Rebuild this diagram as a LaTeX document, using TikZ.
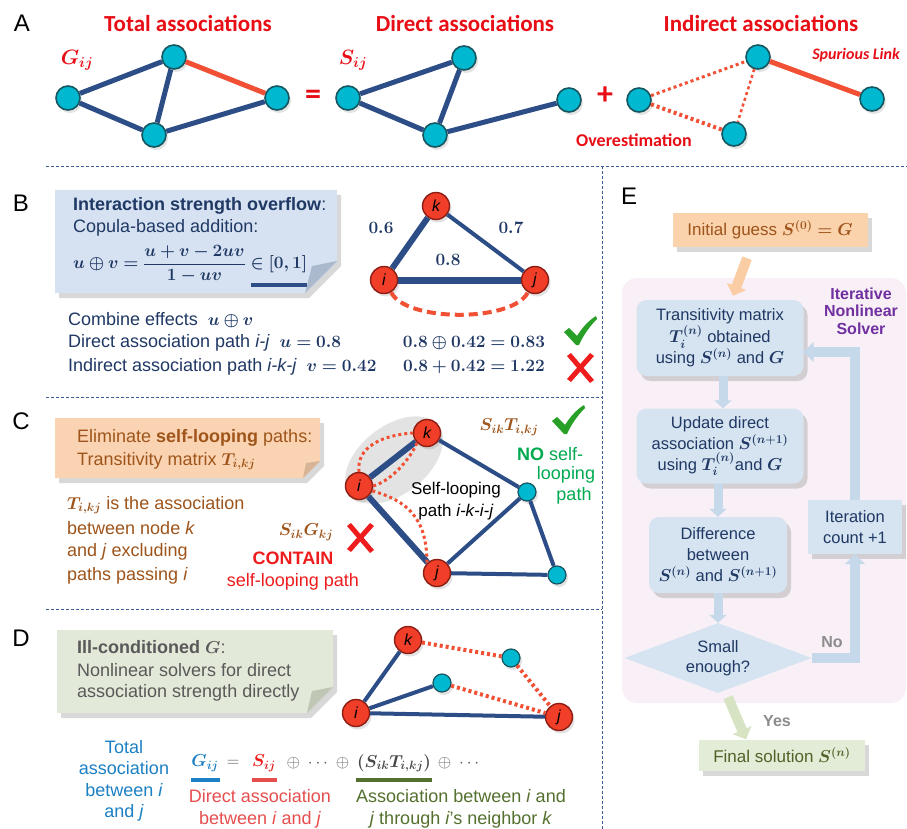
\documentclass[tikz,border=0pt]{standalone}
\usepackage{amsmath}
\usepackage{bm}
\usepackage{fontspec}
\setmainfont{Liberation Sans}
\newfontfamily\carl{Carlito}
\usetikzlibrary{arrows.meta,shadows,shapes.geometric}
\definecolor{navyE}{RGB}{44,77,134}
\definecolor{cyanF}{RGB}{0,184,208}
\definecolor{cyanD}{RGB}{22,86,96}
\definecolor{redL}{RGB}{242,80,52}
\definecolor{titleR}{RGB}{232,14,22}
\definecolor{redF}{RGB}{240,62,40}
\definecolor{redD}{RGB}{140,30,20}
\definecolor{bnoteF}{RGB}{214,226,241}
\definecolor{bfoldF}{RGB}{170,185,205}
\definecolor{bnavy}{RGB}{31,56,100}
\definecolor{cnoteF}{RGB}{250,212,178}
\definecolor{cfoldF}{RGB}{215,180,150}
\definecolor{brownT}{RGB}{158,84,26}
\definecolor{dnoteF}{RGB}{227,233,216}
\definecolor{dfoldF}{RGB}{190,198,180}
\definecolor{grayT}{RGB}{89,89,89}
\definecolor{chkG}{RGB}{40,160,40}
\definecolor{xR}{RGB}{238,28,28}
\definecolor{greenT}{RGB}{0,170,80}
\definecolor{dblue}{RGB}{28,128,196}
\definecolor{dred}{RGB}{230,78,78}
\definecolor{dgreen}{RGB}{84,112,46}
\definecolor{sepC}{RGB}{60,90,150}
\definecolor{pinkF}{RGB}{248,240,246}
\definecolor{eblue}{RGB}{214,228,241}
\definecolor{earrow}{RGB}{198,217,235}
\definecolor{purp}{RGB}{112,48,160}
\definecolor{initF}{RGB}{250,210,172}
\definecolor{finF}{RGB}{226,236,214}
\definecolor{finT}{RGB}{79,98,40}
\definecolor{yesA}{RGB}{214,228,196}
\definecolor{labG}{RGB}{140,140,140}
\definecolor{peachA}{RGB}{250,205,165}
\tikzset{
  nshadow/.style={drop shadow={opacity=0.22, shadow xshift=2pt, shadow yshift=-3pt}},
  bshadow/.style={drop shadow={opacity=0.3, shadow xshift=4pt, shadow yshift=-5pt}},
  cnode/.style={circle, fill=cyanF, draw=cyanD, line width=1.6pt, minimum size=24pt, inner sep=0pt, nshadow},
  cnodes/.style={circle, fill=cyanF, draw=cyanD, line width=1.2pt, minimum size=18pt, inner sep=0pt, nshadow},
  rnode/.style={circle, fill=redF, draw=redD, line width=1.4pt, minimum size=27pt, inner sep=0pt, nshadow,
     font=\fontsize{16}{16}\selectfont\itshape},
  navyline/.style={draw=navyE, line width=#1},
  redline/.style={draw=redL, line width=5pt},
  rdot/.style={draw=redL, line width=#1, dash pattern=on 3pt off 3pt},
  plabel/.style={font=\fontsize{24}{24}\selectfont, inner sep=0pt},
  title/.style={font=\carl\bfseries\fontsize{23}{23}\selectfont, text=titleR, inner sep=0pt},
  txt/.style={font=\fontsize{18}{23}\selectfont, inner sep=0pt},
  sep/.style={draw=sepC, line width=0.9pt, dash pattern=on 3pt off 2pt},
  ebox/.style={rounded corners=10pt, fill=eblue, align=center, text=bnavy, inner sep=2pt,
     font=\fontsize{16.5}{21}\selectfont, bshadow},
  barrow/.style={draw=#1, line width=10pt, -{Triangle[length=10pt,width=20pt]}},
  sarrow/.style={draw=earrow, line width=9pt, -{Triangle[length=8pt,width=17pt]}},
  chk/.pic={\fill[chkG] (-16,1) -- (-11,-3) -- (-3,5) .. controls (2,-3) and (8,-10) .. (16,-15)
      -- (17,-12) .. controls (9,-4) and (3,5) .. (-1,14) -- (-4,14) -- cycle;},
  xmk/.pic={\fill[xR] (-13,-12) -- (-9,-15) -- (14,12) -- (10,15) -- cycle;
      \fill[xR] (10,-15) -- (14,-12) -- (-9,14) -- (-13,11) -- cycle;}
}
\begin{document}
\begin{tikzpicture}[x=1pt,y=-1pt]
\useasboundingbox (0,0) rectangle (907,829);
\fill[white] (0,0) rectangle (907,829);

% ---------- separators
\draw[sep] (46,166) -- (907,166);
\draw[sep] (602,166) -- (602,829);
\draw[sep] (46,397) -- (602,397);
\draw[sep] (46,609) -- (602,609);

% ---------- panel labels
\node[plabel] (lA) at (22,23) {A};
\node[plabel] (lB) at (21,203) {B};
\node[plabel] (lC) at (21,421) {C};
\node[plabel] (lD) at (21,638) {D};
\node[plabel] (lE) at (629,196) {E};

% ---------- Panel A
\node[title] (tA1) at (188,24) {Total associations};
\node[title] (tA2) at (465,24) {Direct associations};
\node[title] (tA3) at (761,24) {Indirect associations};
\node[text=titleR, font=\fontsize{20}{20}\selectfont] (Gij) at (77,60) {$\bm{G_{ij}}$};
\node[text=titleR, font=\fontsize{20}{20}\selectfont] (Sij) at (353,60) {$\bm{S_{ij}}$};
\node[title, font=\carl\bfseries\fontsize{32}{32}\selectfont] (eqA) at (313,97) {=};
\node[title, font=\carl\bfseries\fontsize{32}{32}\selectfont] (plA) at (605,96) {+};
\node[title, font=\carl\bfseries\itshape\fontsize{16}{16}\selectfont] (spur) at (856,55) {Spurious Link};
\node[title, font=\carl\bfseries\fontsize{18}{18}\selectfont] (over) at (634,140) {Overestimation};

\node[cnode] (a1l) at (68,98) {};
\node[cnode] (a1t) at (174,57) {};
\node[cnode] (a1b) at (154,135) {};
\node[cnode] (a1r) at (277,98) {};
\draw[navyline=5pt] (a1l) -- (a1t);
\draw[navyline=5pt] (a1l) -- (a1b);
\draw[navyline=5pt] (a1t) -- (a1b);
\draw[navyline=5pt] (a1b) -- (a1r);
\draw[redline] (a1t) -- (a1r);

\node[cnode] (a2l) at (348,98) {};
\node[cnode] (a2t) at (464,58) {};
\node[cnode] (a2b) at (435,135) {};
\node[cnode] (a2r) at (569,100) {};
\draw[navyline=5pt] (a2l) -- (a2t);
\draw[navyline=5pt] (a2l) -- (a2b);
\draw[navyline=5pt] (a2t) -- (a2b);
\draw[navyline=5pt] (a2b) -- (a2r);

\node[cnode] (a3l) at (639,100) {};
\node[cnode] (a3t) at (758,57) {};
\node[cnode] (a3b) at (734,134) {};
\node[cnode] (a3r) at (872,99) {};
\draw[rdot=3pt] (a3l) -- (a3t);
\draw[rdot=4pt] (a3l) -- (a3b);
\draw[rdot=2.5pt] (a3t) -- (a3b);
\draw[redline] (a3t) -- (a3r);

% ---------- Panel B
\fill[bnoteF, bshadow] (55,190) -- (337,190) -- (337,261) -- (305,293) -- (55,293) -- cycle;
\fill[bfoldF] (337,261) -- (305,293) -- (312,266) -- cycle;
\node[txt, anchor=west, text=bnavy] (b1) at (73,206) {\textbf{Interaction strength overflow}:};
\node[txt, anchor=west, text=bnavy] (b2) at (73,228) {Copula-based addition:};
\node[txt, anchor=west, text=bnavy, font=\fontsize{17}{20}\selectfont] (b3) at (73,264)
  {$\bm{u\oplus v=}\dfrac{\bm{u+v-2uv}}{\bm{1-uv}}\bm{\in[0,1]}$};
\draw[navyE, line width=4pt] ([xshift=-56pt,yshift=-2pt]b3.south east) -- ([yshift=-2pt]b3.south east);

\node[rnode] (bk) at (436,206) {k};
\node[rnode] (bi) at (384,280) {i};
\node[rnode] (bj) at (535,280) {j};
\draw[navyline=6pt] (bi) -- (bk);
\draw[navyline=4pt] (bk) -- (bj);
\draw[navyline=7pt] (bi) -- (bj);
\draw[draw=redL, line width=4pt, dash pattern=on 9pt off 5pt] (bi.-60) .. controls +(15,30) and +(-15,30) .. (bj.-120);
\node[txt, text=bnavy] (e06) at (381,228) {$\bm{0.6}$};
\node[txt, text=bnavy] (e07) at (511,228) {$\bm{0.7}$};
\node[txt, text=bnavy] (e08) at (448,260) {$\bm{0.8}$};

\node[txt, anchor=west, text=bnavy] (b4) at (68,320) {Combine effects\ \ $\bm{u\oplus v}$};
\node[txt, anchor=west, text=bnavy] (b5) at (68,343) {Direct association path \textit{i-j}\ \ $\bm{u=0.8}$};
\node[txt, anchor=west, text=bnavy] (b6) at (68,367) {Indirect association path \textit{i-k-j}\ \ $\bm{v=0.42}$};
\node[txt, text=bnavy] (b7) at (474,343) {$\bm{0.8\oplus 0.42=0.83}$};
\node[txt, text=bnavy] (b8) at (474,367) {$\bm{0.8+0.42=1.22}$};
\pic at (580,331) {chk};
\pic at (580,368) {xmk};

% ---------- Panel C
\fill[cnoteF, bshadow] (55,418) -- (320,418) -- (320,461) -- (303,478) -- (55,478) -- cycle;
\fill[cfoldF] (320,461) -- (303,478) -- (306,463) -- cycle;
\node[txt, anchor=west, text=brownT] (c1) at (77,438) {Eliminate \textbf{self-looping} paths:};
\node[txt, anchor=west, text=brownT] (c2) at (77,461) {Transitivity matrix $\bm{T_{i,kj}}$};
\node[txt, anchor=west, text=brownT] (c3) at (67,505) {$\bm{T_{i,kj}}$ is the association};
\node[txt, anchor=west, text=brownT] (c4) at (67,528) {between node \textit{k}};
\node[txt, anchor=west, text=brownT] (c5) at (67,552) {and \textit{j} excluding};
\node[txt, anchor=west, text=brownT] (c6) at (67,576) {paths passing \textit{i}};
\node[txt, text=brownT] (c7) at (306,532) {$\bm{S_{ik}G_{kj}}$};
\pic at (360,538) {xmk};
\node[txt, text=xR, font=\bfseries\fontsize{18}{23}\selectfont] (c8) at (293,558) {CONTAIN};
\node[txt, text=xR] (c9) at (293,582) {self-looping path};

\fill[gray, opacity=0.22, rotate around={38:(394,460)}] (394,460) ellipse [x radius=56, y radius=34];
\node[rnode] (ck) at (427,433) {k};
\node[rnode] (ci) at (359,486) {i};
\node[rnode] (cj) at (437,573) {j};
\node[cnodes] (cc1) at (527,492) {};
\node[cnodes] (cc2) at (557,575) {};
\draw[navyline=6pt] (ci) -- (ck);
\draw[navyline=4pt] (ck) -- (cc1);
\draw[navyline=6pt] (ci) -- (cj);
\draw[navyline=4pt] (cj) -- (cc1);
\draw[navyline=4pt] (cj) -- (cc2);
\draw[navyline=4pt] (cc1) -- (cc2);
\draw[rdot=3pt] (ci.north) .. controls +(-3,-25) and +(-30,2) .. (ck.west);
\draw[rdot=3pt] (ci.east) .. controls +(20,-6) and +(-6,14) .. (ck.south west);
\draw[rdot=3pt] (ci.-20) .. controls +(35,10) and +(0,-45) .. (cj.north west);
\node[txt, align=center, font=\fontsize{17}{22}\selectfont] (c10) at (456,501) {Self-looping\\path \textit{i-k-i-j}};
\node[txt, text=brownT] (c11) at (509,427) {$\bm{S_{ik}T_{i,kj}}$};
\pic at (568,420) {chk};
\node[txt, text=greenT] (c12) at (550,454) {\textbf{NO} self-};
\node[txt, text=greenT] (c13) at (566,475) {looping};
\node[txt, text=greenT] (c14) at (574,496) {path};

% ---------- Panel D
\fill[dnoteF, bshadow] (57,630) -- (333,630) -- (333,687) -- (307,713) -- (57,713) -- cycle;
\fill[dfoldF] (333,687) -- (307,713) -- (312,691) -- cycle;
\node[txt, anchor=west, text=grayT] (d1) at (77,647) {\textbf{Ill-conditioned} $\bm{G}$:};
\node[txt, anchor=west, text=grayT] (d2) at (77,670) {Nonlinear solvers for direct};
\node[txt, anchor=west, text=grayT] (d3) at (77,693) {association strength directly};

\node[rnode] (dk) at (408,640) {k};
\node[rnode] (di) at (356,713) {i};
\node[rnode] (dj) at (559,717) {j};
\node[cnodes] (dc1) at (511,658) {};
\node[cnodes] (dc2) at (442,683) {};
\draw[navyline=4pt] (di) -- (dk);
\draw[navyline=4pt] (di) -- (dc2);
\draw[navyline=4pt] (di) -- (dj);
\draw[rdot=4pt] (dk) -- (dc1);
\draw[rdot=4pt] (dc1) -- (dj);
\draw[rdot=4pt] (dc2) -- (dj);

\node[txt, align=center, text=dblue, font=\fontsize{18}{21.5}\selectfont] (d4) at (124,781) {Total\\association\\between \textit{i}\\and \textit{j}};
\node[txt, text=dblue] (dG) at (205,763) {$\bm{G_{ij}}$};
\node[txt, text=grayT] (dEq) at (233,763) {$=$};
\node[txt, text=xR] (dS) at (264,763) {$\bm{S_{ij}}$};
\node[txt, text=grayT] (dO1) at (318,763) {$\oplus\ \cdots\ \oplus$};
\node[txt, text=grayT!80!black] (dST) at (394,763) {$\bm{(S_{ik}T_{i,kj})}$};
\node[txt, text=grayT] (dO2) at (460,763) {$\oplus\ \cdots$};
\draw[dblue, line width=4pt] (191,780) -- (220,780);
\draw[dred, line width=4pt] (252,780) -- (277,780);
\draw[dgreen, line width=4pt] (356,780) -- (432,780);
\node[txt, align=center, text=dred, font=\fontsize{18}{22}\selectfont] (d5) at (260,809) {Direct association\\between \textit{i} and \textit{j}};
\node[txt, align=center, text=dgreen, font=\fontsize{18}{22}\selectfont] (d6) at (461,809) {Association between \textit{i} and\\\textit{j} through \textit{i}'s neighbor \textit{k}};

% ---------- Panel E
\fill[pinkF, rounded corners=15pt] (622,278) rectangle (906,703);
\node[fill=initF, text=brownT, font=\fontsize{17}{21}\selectfont, minimum width=195pt, minimum height=34pt, inner sep=0pt, bshadow] (init) at (770,230) {Initial guess $\bm{S^{(0)}=G}$};
\node[font=\bfseries\fontsize{16}{17.5}\selectfont, text=purp, align=center, inner sep=0pt] (iterlab) at (861,311) {Iterative\\Nonlinear\\Solver};
\node[ebox, minimum width=167pt, minimum height=76pt] (box1) at (720,338)
  {Transitivity matrix\\$\bm{T_i^{(n)}}$ obtained\\using $\bm{S^{(n)}}$ and $\bm{G}$};
\node[ebox, minimum width=167pt, minimum height=75pt] (box2) at (720,446)
  {Update direct\\association $\bm{S^{(n+1)}}$\\using $\bm{T_i^{(n)}}$and $\bm{G}$};
\node[ebox, minimum width=138pt, minimum height=76pt] (box3) at (718,555)
  {Difference\\between\\$\bm{S^{(n)}}$ and $\bm{S^{(n+1)}}$};
\node[diamond, fill=eblue, text=bnavy, align=center, minimum width=187pt, minimum height=70pt, inner sep=0pt, aspect=2.6,
  font=\fontsize{16.5}{20}\selectfont] (dia) at (718,658) {Small\\enough?};
\node[fill=eblue, text=bnavy, align=center, minimum width=94pt, minimum height=54pt, inner sep=0pt, bshadow,
  font=\fontsize{16.5}{21}\selectfont] (iter) at (855,527) {Iteration\\count +1};
\node[fill=finF, text=finT, font=\fontsize{17}{21}\selectfont, minimum width=166pt, minimum height=31pt, inner sep=0pt, bshadow] (final) at (782,755) {Final solution $\bm{S^{(n)}}$};

\draw[barrow=peachA] ([xshift=-23pt,yshift=-11pt]init.south) -- ([xshift=13pt,yshift=4pt]box1.north);
\draw[sarrow] ([xshift=3pt]box1.south) -- ([xshift=3pt]box2.north);
\draw[sarrow] ([xshift=-2pt]box2.south) -- (box3.north);
\draw[sarrow] (box3.south) -- (dia.north);
\draw[barrow=earrow, line join=miter] (dia.east) -| (iter.south);
\draw[barrow=earrow, line join=miter] (iter.north) |- ([yshift=-14pt]box1.east);
\draw[barrow=yesA] ([xshift=10pt,yshift=-4pt]dia.south) -- ([xshift=-36pt]final.north);
\node[font=\bfseries\fontsize{16}{16}\selectfont, text=labG, inner sep=0pt] (nolab) at (832,642) {No};
\node[font=\bfseries\fontsize{16}{16}\selectfont, text=labG, inner sep=0pt] (yeslab) at (777,721) {Yes};
\end{tikzpicture}
\end{document}
